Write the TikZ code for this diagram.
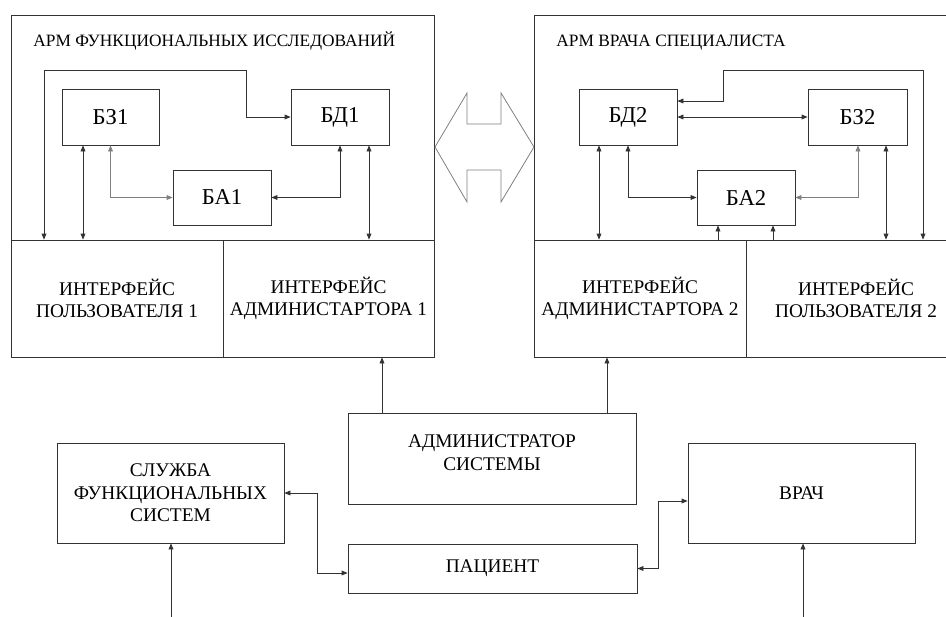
\documentclass[tikz,border=0pt]{standalone}
\usepackage{fontspec}
\setmainfont{Liberation Serif}
\newfontfamily\timesfont{Liberation Serif}
\usetikzlibrary{arrows.meta}
\begin{document}
\begin{tikzpicture}[x=0.75pt, y=-0.75pt, line width=0.6pt,
    every node/.style={font=\timesfont},
    box/.style 2 args={draw=black!80, inner sep=0pt, minimum width=#1*0.75pt, minimum height=#2*0.75pt, align=center},
    blk/.style={font=\timesfont\fontsize{17}{20}\selectfont},
    txt/.style={font=\timesfont\fontsize{14.5}{17}\selectfont},
    link/.style={draw=black!80, {Triangle[length=4.5pt,width=3.6pt]}-{Triangle[length=4.5pt,width=3.6pt]}},
    arr/.style={draw=black!80, -{Triangle[length=4.5pt,width=3.6pt]}}]
    \clip (0,0) rectangle (946,617);
    \node[box={423}{342}] (arm1) at (222.5,186) {};
    \node[box={432}{342}] (arm2) at (750,186) {};
    \node[anchor=base west, inner sep=0pt, font=\timesfont\fontsize{13}{15}\selectfont] (t1) at (33,47) {АРМ ФУНКЦИОНАЛЬНЫХ ИССЛЕДОВАНИЙ};
    \node[anchor=base west, inner sep=0pt, font=\timesfont\fontsize{13}{15}\selectfont] (t2) at (556,47) {АРМ ВРАЧА СПЕЦИАЛИСТА};
    \node[box={212}{117}, txt] (ui1) at (117,298.5) {ИНТЕРФЕЙС\\ПОЛЬЗОВАТЕЛЯ 1};
    \node[box={211}{117}, txt] (adm1) at (328.5,298.5) {ИНТЕРФЕЙС\\АДМИНИСТАРТОРА 1};
    \node[box={212}{117}, txt] (adm2) at (640,298.5) {ИНТЕРФЕЙС\\АДМИНИСТАРТОРА 2};
    \node[box={220}{117}, txt] (ui2) at (856,298.5) {ИНТЕРФЕЙС\\ПОЛЬЗОВАТЕЛЯ 2};
    \node[box={97}{56}, blk] (bz1) at (110.5,117) {БЗ1};
    \node[box={98}{56}, blk] (bd1) at (340,117) {БД1};
    \node[box={98}{55}, blk] (ba1) at (222,197.5) {БА1};
    \node[box={98}{56}, blk] (bd2) at (628,117) {БД2};
    \node[box={99}{56}, blk] (bz2) at (857.5,117) {БЗ2};
    \node[box={98}{55}, blk] (ba2) at (746,197.5) {БА2};
    \node[box={288}{91}] (sys) at (492,458.5) {};
    \node[txt, align=center] (syst) at (492,452.5) {АДМИНИСТРАТОР\\СИСТЕМЫ};
    \node[box={227}{100}, txt] (fs) at (170.5,493) {СЛУЖБА\\ФУНКЦИОНАЛЬНЫХ\\СИСТЕМ};
    \node[box={289}{49}, txt] (pat) at (492.5,568.5) {ПАЦИЕНТ};
    \node[box={227}{100}, txt] (doc) at (801.5,493) {ВРАЧ};
    \coordinate (fsin) at (171,617);
    \coordinate (docin) at (803,617);
    \draw[draw=gray] (435,147) -- (467,93) -- (467,124) -- (501,124) -- (501,93) -- (534,147)
        -- (501,202) -- (501,170) -- (467,170) -- (467,202) -- cycle;
    \draw[link] (ui1.north -| 44,0) |- (246,70) |- (bd1.west);
    \draw[link] (bz1.south -| 83,0) -- (ui1.north -| 83,0);
    \draw[link, draw=gray] (bz1.south) |- (ba1.west);
    \draw[link] (bd1.south) |- (ba1.east);
    \draw[link] (bd1.south -| 369,0) -- (adm1.north -| 369,0);
    \draw[link] (ui2.north -| 923,0) |- (723,70) |- (bd2.east |- 0,101);
    \draw[link] (bd2.east) -- (bz2.west);
    \draw[link] (bd2.south -| 599,0) -- (adm2.north -| 599,0);
    \draw[link] (bd2.south) |- (ba2.west);
    \draw[link, draw=gray] (bz2.south -| 858,0) |- (ba2.east);
    \draw[link] (bz2.south -| 886,0) -- (ui2.north -| 886,0);
    \draw[arr] (adm2.north -| 718,0) -- (ba2.south -| 718,0);
    \draw[arr] (ui2.north -| 773,0) -- (ba2.south -| 773,0);
    \draw[arr] (sys.north -| 382,0) -- (adm1.south -| 382,0);
    \draw[arr] (sys.north -| 607,0) -- (adm2.south -| 607,0);
    \draw[link] (fs.east) -| (317,573) -- (pat.west |- 0,573);
    \draw[link] (pat.east) -| (658,501) -- (doc.west |- 0,501);
    \draw[arr] (fsin) -- (fs.south -| fsin);
    \draw[arr] (docin) -- (doc.south -| docin);
\end{tikzpicture}
\end{document}
